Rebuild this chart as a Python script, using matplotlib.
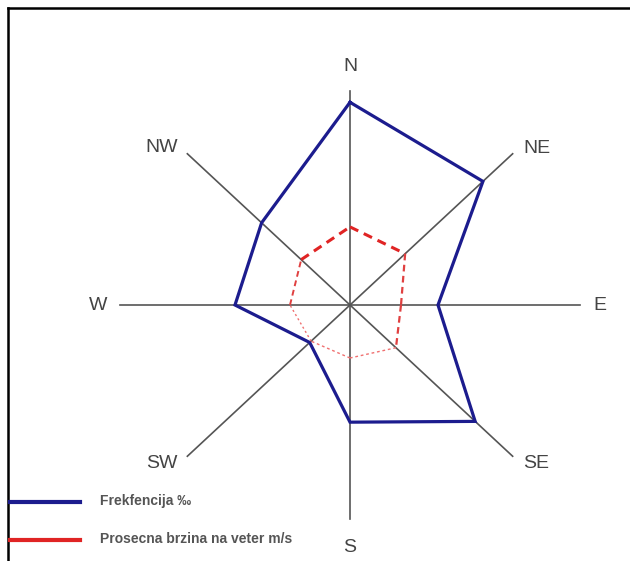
import numpy as np
import matplotlib
matplotlib.use("Agg")
import matplotlib.pyplot as plt
from matplotlib.lines import Line2D

directions = ["N", "NE", "E", "SE", "S", "SW", "W", "NW"]
frequency = [21.8, 18.8, 8.8, 17.7, 12.6, 5.7, 11.5, 12.5]
speed = [8.4, 7.8, 5.1, 6.5, 5.7, 5.5, 6.0, 6.9]
legend_labels = ["Frekfencija \u2030", "Prosecna brzina na veter m/s"]

angles = np.deg2rad(np.arange(0, 360, 45))

W, H = 630, 561
fig = plt.figure(figsize=(W / 100, H / 100), dpi=100)
ax = fig.add_axes([0, 0, 1, 1])
ax.set_xlim(-35, 28)
ax.set_ylim(-27.53, 32.8)
ax.axis("off")

def xy(r, a):
    return np.asarray(r) * np.sin(a), np.asarray(r) * np.cos(a)

axis_len = 23
for a in angles:
    x, y = xy([0, axis_len], a)
    ax.plot(x, y, color="#555555", lw=1.2, zorder=1)

# label placement: (radius, offset px, ha)
cardinal_r = {"N": 25.6, "E": 25.0, "S": 26.1, "W": 25.2}
diag_off = {"NE": (11, 5, "left"), "SE": (10, -7, "left"),
            "SW": (-10, -7, "right"), "NW": (-9, 6, "right")}
for d, a in zip(directions, angles):
    if d in cardinal_r:
        x, y = xy(cardinal_r[d], a)
        ax.text(x, y, d, ha="center", va="center", fontsize=14,
                family="Liberation Sans", color="#444444")
    else:
        ox, oy, ha = diag_off[d]
        x, y = xy(axis_len, a)
        ax.annotate(d, (x, y), xytext=(ox * 0.72, oy * 0.72),
                    textcoords="offset points", ha=ha, va="center",
                    fontsize=14, family="Liberation Sans", color="#444444")

# frequency polygon
fx, fy = xy(frequency, angles)
ax.plot(np.append(fx, fx[0]), np.append(fy, fy[0]), color="#1c1c8e",
        lw=2.3, zorder=3, solid_joinstyle="miter")

# speed polygon, drawn per segment (upper heavy dashes, lower light dots)
sx, sy = xy(speed, angles)
styles = {
    0: dict(lw=2.2, color="#e02424", dashes=(3, 2)),   # N-NE
    1: dict(lw=1.6, color="#e04040", dashes=(3, 2)),   # NE-E
    2: dict(lw=1.6, color="#e04040", dashes=(3, 2)),   # E-SE
    3: dict(lw=1.0, color="#f07070", dashes=(2, 2)),   # SE-S
    4: dict(lw=1.0, color="#f07070", dashes=(2, 2)),   # S-SW
    5: dict(lw=1.0, color="#f07070", dashes=(1.5, 2)), # SW-W
    6: dict(lw=1.4, color="#e04040", dashes=(3, 2)),   # W-NW
    7: dict(lw=2.2, color="#e02424", dashes=(3, 2)),   # NW-N
}
n = len(speed)
for i in range(n):
    j = (i + 1) % n
    st = styles[i]
    ax.plot([sx[i], sx[j]], [sy[i], sy[j]], color=st["color"], lw=st["lw"],
            dashes=st["dashes"], zorder=4)

# frame (top and left)
fig.add_artist(Line2D([8 / W, 1.0], [1 - 8 / H, 1 - 8 / H], color="black", lw=1.8))
fig.add_artist(Line2D([8 / W, 8 / W], [0, 1 - 8 / H], color="black", lw=1.8))

# legend
leg_y = [502, 540]
leg_col = ["#1c1c8e", "#e02424"]
for yy, c, lab in zip(leg_y, leg_col, legend_labels):
    fig.add_artist(Line2D([10 / W, 80 / W], [1 - yy / H, 1 - yy / H], color=c, lw=3))
    fig.text(100 / W, 1 - (yy - 1) / H, lab, ha="left", va="center", fontsize=10,
             fontweight="bold", family="Liberation Sans", color="#555555")

fig.savefig("out.png", dpi=100, facecolor="white")
